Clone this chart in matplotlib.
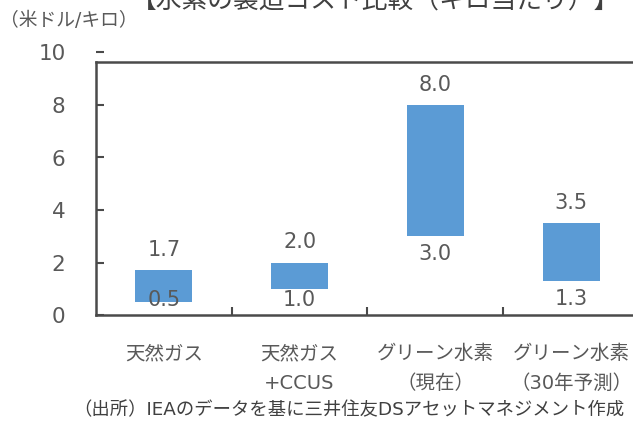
import matplotlib.pyplot as plt
import numpy as np

plt.rcParams['font.family'] = ['DejaVu Sans', 'Noto Sans CJK JP']

# data (US$ per kg)
categories = ['天然ガス', '天然ガス\n+CCUS', 'グリーン水素\n（現在）', 'グリーン水素\n（30年予測）']
low = [0.5, 1.0, 3.0, 1.3]
high = [1.7, 2.0, 8.0, 3.5]

bar_color = '#5B9BD5'
text_color = '#595959'
axis_color = '#4a4a4a'

fig = plt.figure(figsize=(6.33, 4.23), dpi=100)
ax = fig.add_axes([96 / 633, 108 / 423, 543 / 633, 262.5 / 423])

x = np.arange(len(categories))
ax.bar(x, np.array(high) - np.array(low), bottom=low, width=0.42, color=bar_color)

# value labels: high above the bar, low below it (kept inside plot area)
for xi, lo, hi in zip(x, low, high):
    ax.text(xi, hi + 0.78, f'{hi:.1f}', ha='center', va='center',
            fontsize=15, color=text_color)
    ax.text(xi, max(lo - 0.68, 0.57), f'{lo:.1f}', ha='center', va='center',
            fontsize=15, color=text_color)

ax.set_xlim(-0.5, 3.5)
ax.set_ylim(0, 10)
ax.set_yticks([0, 2, 4, 6, 8, 10])
ax.set_xticks(x)
ax.set_xticklabels(categories, fontsize=14, color=text_color, linespacing=1.75)
ax.set_xticks([0.5, 1.5, 2.5, 3.5], minor=True)
ax.tick_params(axis='x', which='major', length=0, pad=21)
ax.tick_params(axis='x', which='minor', direction='in', length=6,
               width=1.5, color=axis_color)
ax.tick_params(axis='y', direction='in', length=6, width=1.5,
               color=axis_color, labelsize=15.5, labelcolor=text_color, pad=22)

frame_top = 9.62
for side in ['top', 'right']:
    ax.spines[side].set_visible(False)
for side in ['left', 'bottom']:
    ax.spines[side].set_color(axis_color)
    ax.spines[side].set_linewidth(1.8)
ax.spines['left'].set_bounds(0, frame_top)
ax.axhline(frame_top, color=axis_color, linewidth=1.8, clip_on=False)

fig.text(375 / 633, 1 - 14 / 423, '【水素の製造コスト比較（キロ当たり）】',
         ha='center', va='bottom', fontsize=18.5, color='#404040')
fig.text(0, 1 - 20 / 423, '（米ドル/キロ）', ha='left', va='center',
         fontsize=13.5, color=text_color)
fig.text(349 / 633, 1 - 410 / 423,
         '（出所）IEAのデータを基に三井住友DSアセットマネジメント作成',
         ha='center', va='center', fontsize=13.2, color='#404040')

fig.savefig('out.png', dpi=100)
